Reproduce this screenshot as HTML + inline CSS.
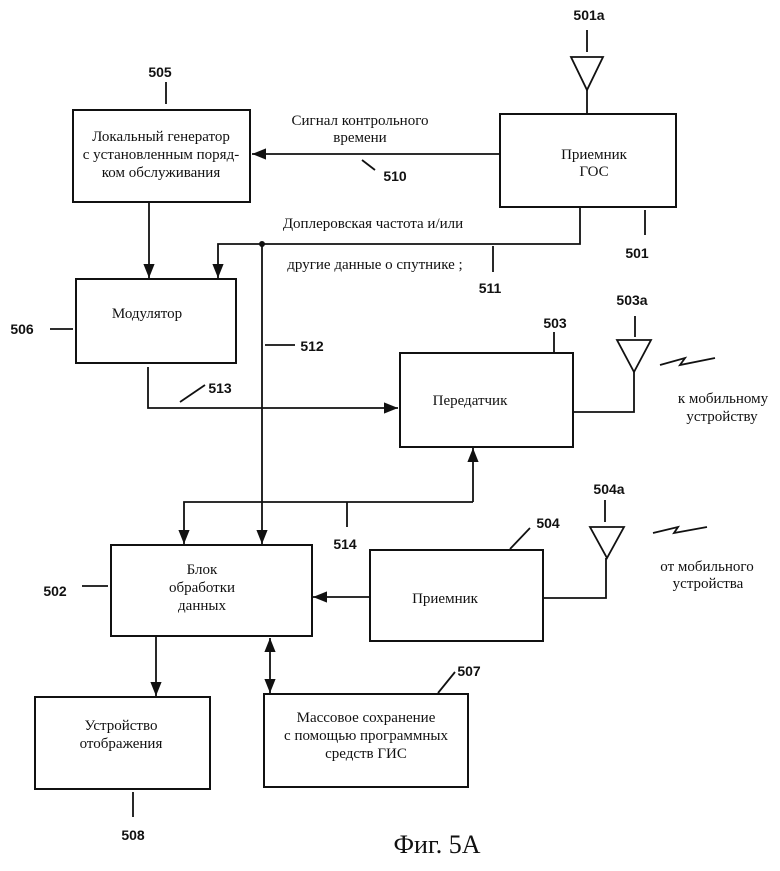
<!DOCTYPE html>
<html><head><meta charset="utf-8"><style>
body{margin:0;background:#fff}
svg{display:block}
.s{font-family:"Liberation Serif","DejaVu Serif",serif;font-size:15px;fill:#111}
.n{font-family:"Liberation Sans","DejaVu Sans",sans-serif;font-size:14px;font-weight:bold;fill:#111}
</style></head><body>
<svg width="780" height="871" viewBox="0 0 780 871" xmlns="http://www.w3.org/2000/svg">
<defs>
<marker id="a" viewBox="0 0 10 10" refX="10" refY="5" markerWidth="9" markerHeight="9" markerUnits="userSpaceOnUse" orient="auto-start-reverse"><path d="M0,0 L10,5 L0,10 z" fill="#111"/></marker>
<marker id="b" viewBox="0 0 10 10" refX="10" refY="5" markerWidth="14" markerHeight="14" markerUnits="userSpaceOnUse" orient="auto-start-reverse"><path d="M0,1 L10,5 L0,9 z" fill="#111"/></marker>
</defs>
<g fill="none" stroke="#111" stroke-width="2">
<rect x="73" y="110" width="177" height="92"/>
<rect x="500" y="114" width="176" height="93"/>
<rect x="76" y="279" width="160" height="84"/>
<rect x="400" y="353" width="173" height="94"/>
<rect x="111" y="545" width="201" height="91"/>
<rect x="370" y="550" width="173" height="91"/>
<rect x="35" y="697" width="175" height="92"/>
<rect x="264" y="694" width="204" height="93"/>
</g>
<g fill="none" stroke="#111" stroke-width="1.8">
<!-- antenna 501a -->
<line x1="587" y1="30" x2="587" y2="52"/>
<path d="M571,57 L603,57 L587,90 z"/>
<line x1="587" y1="90" x2="587" y2="114"/>
<!-- 510 -->
<line x1="500" y1="154" x2="252" y2="154" marker-end="url(#b)"/>
<line x1="362" y1="160" x2="375" y2="170"/>
<!-- 505 tick -->
<line x1="166" y1="82" x2="166" y2="104"/>
<!-- 501 tick -->
<line x1="645" y1="210" x2="645" y2="235"/>
<!-- 511 path -->
<polyline points="580,208 580,244 218,244 218,278" marker-end="url(#b)"/>
<line x1="493" y1="246" x2="493" y2="272"/>
<!-- 505->506 -->
<line x1="149" y1="202" x2="149" y2="278" marker-end="url(#b)"/>
<!-- 506 tick -->
<line x1="50" y1="329" x2="73" y2="329"/>
<!-- 512 -->
<line x1="262" y1="244" x2="262" y2="544" marker-end="url(#b)"/>
<line x1="265" y1="345" x2="295" y2="345"/>
<!-- 513 -->
<polyline points="148,367 148,408 398,408" marker-end="url(#b)"/>
<line x1="180" y1="402" x2="205" y2="385"/>
<!-- 503 tick -->
<line x1="554" y1="332" x2="554" y2="353"/>
<!-- antenna 503a -->
<line x1="635" y1="316" x2="635" y2="337"/>
<path d="M617,340 L651,340 L634,372 z"/>
<polyline points="634,372 634,412 573,412"/>
<polyline points="660,365 685,358 680,365 715,358"/>
<!-- 514 -->
<line x1="473" y1="502" x2="473" y2="448" marker-end="url(#b)"/>
<polyline points="473,502 184,502 184,544" marker-end="url(#b)"/>
<line x1="347" y1="502" x2="347" y2="527"/>
<!-- 502 tick -->
<line x1="82" y1="586" x2="108" y2="586"/>
<!-- 504->502 -->
<line x1="370" y1="597" x2="313" y2="597" marker-end="url(#b)"/>
<!-- 504 tick -->
<line x1="510" y1="549" x2="530" y2="528"/>
<!-- antenna 504a -->
<line x1="605" y1="500" x2="605" y2="522"/>
<path d="M590,527 L624,527 L607,558 z"/>
<polyline points="606,558 606,598 543,598"/>
<polyline points="653,533 678,527 674,533 707,527"/>
<!-- 502->508 -->
<line x1="156" y1="636" x2="156" y2="696" marker-end="url(#b)"/>
<!-- 508 tick -->
<line x1="133" y1="792" x2="133" y2="817"/>
<!-- double arrow -->
<line x1="270" y1="638" x2="270" y2="693" marker-start="url(#b)" marker-end="url(#b)"/>
<!-- 507 tick -->
<line x1="438" y1="693" x2="455" y2="672"/>
</g>
<circle cx="262" cy="244" r="3" fill="#111"/>
<g class="n" text-anchor="middle">
<text x="589" y="20">501a</text>
<text x="160" y="77">505</text>
<text x="395" y="181">510</text>
<text x="637" y="258">501</text>
<text x="490" y="293">511</text>
<text x="22" y="334">506</text>
<text x="312" y="351">512</text>
<text x="220" y="393">513</text>
<text x="555" y="328">503</text>
<text x="632" y="305">503a</text>
<text x="609" y="494">504a</text>
<text x="548" y="528">504</text>
<text x="345" y="549">514</text>
<text x="55" y="596">502</text>
<text x="469" y="676">507</text>
<text x="133" y="840">508</text>
</g>
<g class="s" text-anchor="middle">
<text x="161" y="141">Локальный генератор</text>
<text x="161" y="159">с установленным поряд-</text>
<text x="161" y="177">ком обслуживания</text>
<text x="360" y="125">Сигнал контрольного</text>
<text x="360" y="142">времени</text>
<text x="594" y="159">Приемник</text>
<text x="594" y="176">ГОС</text>
<text x="373" y="228">Доплеровская частота  и/или</text>
<text x="375" y="269">другие  данные  о  спутнике ;</text>
<text x="147" y="318">Модулятор</text>
<text x="470" y="405">Передатчик</text>
<text x="723" y="403">к мобильному</text>
<text x="722" y="421">устройству</text>
<text x="202" y="574">Блок</text>
<text x="202" y="592">обработки</text>
<text x="202" y="610">данных</text>
<text x="445" y="603">Приемник</text>
<text x="707" y="571">от мобильного</text>
<text x="708" y="588">устройства</text>
<text x="121" y="730">Устройство</text>
<text x="121" y="748">отображения</text>
<text x="366" y="722">Массовое сохранение</text>
<text x="366" y="740">с помощью программных</text>
<text x="366" y="758">средств ГИС</text>
<text x="437" y="853" style="font-size:26px">Фиг. 5A</text>
</g>
</svg>
</body></html>
